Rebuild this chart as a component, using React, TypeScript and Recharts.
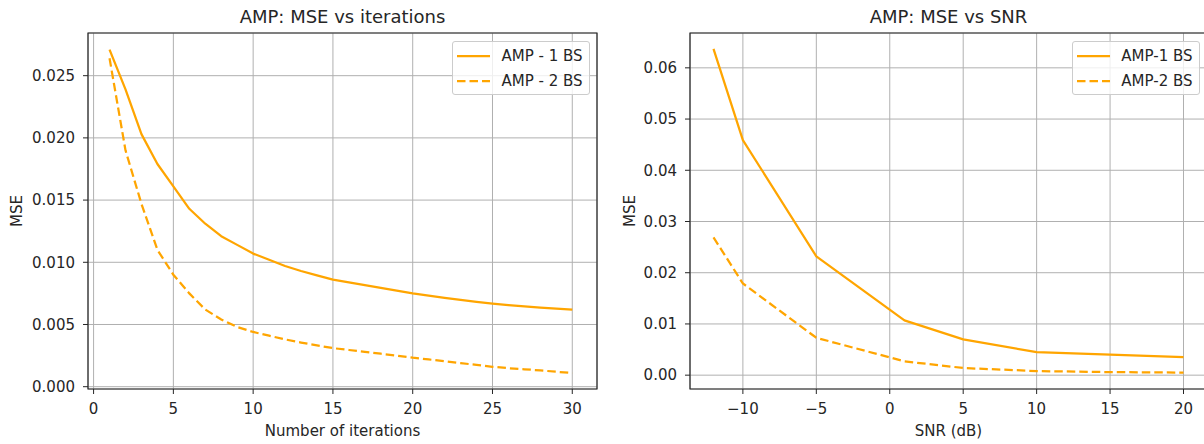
import React from 'react';
import { LineChart, Line, XAxis, YAxis, CartesianGrid, ReferenceArea, Legend } from 'recharts';

// left panel: MSE vs number of AMP iterations
const iterations = [1, 2, 3, 4, 5, 6, 7, 8, 9, 10, 11, 12, 13, 14, 15, 16, 17, 18, 19, 20, 21, 22, 23, 24, 25, 26, 27, 28, 29, 30];
const mseIter1BS = [
    0.0271, 0.0239, 0.0203, 0.0179, 0.0161, 0.0143, 0.0131, 0.0121, 0.0114, 0.0107,
    0.0102, 0.0097, 0.0093, 0.00895, 0.0086, 0.00838, 0.00816, 0.00794, 0.00772, 0.0075,
    0.00732, 0.00714, 0.00697, 0.00681, 0.00667, 0.00655, 0.00645, 0.00636, 0.00628, 0.0062,
];
const mseIter2BS = [
    0.0264, 0.0190, 0.0147, 0.0110, 0.0090, 0.0075, 0.0062, 0.0054, 0.0048, 0.0044,
    0.0041, 0.0038, 0.00355, 0.00332, 0.0031, 0.00295, 0.0028, 0.00265, 0.0025, 0.00233,
    0.00219, 0.00205, 0.0019, 0.00175, 0.0016, 0.00149, 0.0014, 0.00131, 0.0012, 0.0011,
];
const iterTicksX = [0, 5, 10, 15, 20, 25, 30];
const iterTicksY = [0, 0.005, 0.01, 0.015, 0.02, 0.025];

// right panel: MSE vs SNR
const snrDb = [-12, -10, -5, 1, 5, 10, 15, 20];
const mseSnr1BS = [0.0637, 0.0459, 0.0232, 0.0107, 0.0070, 0.0045, 0.0040, 0.0035];
const mseSnr2BS = [0.0269, 0.0179, 0.0073, 0.0027, 0.0014, 0.0008, 0.0006, 0.0005];
const snrTicksX = [-10, -5, 0, 5, 10, 15, 20];
const snrTicksY = [0, 0.01, 0.02, 0.03, 0.04, 0.05, 0.06];

const ORANGE = '#ffa500';
const INK = '#262626';
const FONT = '"DejaVu Sans", sans-serif';
const DASH = '8.5 4';

const iterData = iterations.map((x, i) => ({ x, one: mseIter1BS[i], two: mseIter2BS[i] }));
const snrData = snrDb.map((x, i) => ({ x, one: mseSnr1BS[i], two: mseSnr2BS[i] }));

const minus = (v: number) => (v < 0 ? '\u2212' + Math.abs(v) : String(v));

interface LegendItem { name: string; dash?: string }

const LegendBox = ({ items }: { items: LegendItem[] }) => (
    <div style={{
        background: 'rgba(255,255,255,0.8)', border: '1px solid #cccccc', borderRadius: 3,
        padding: '1px 6px 1px 4px', fontFamily: FONT, fontSize: 15, color: INK,
    }}>
        {items.map(it => (
            <div key={it.name} style={{ display: 'flex', alignItems: 'center', height: 25, whiteSpace: 'nowrap' }}>
                <svg width={33} height={8} style={{ display: 'block', marginRight: 11 }}>
                    <line x1={0} y1={4} x2={33} y2={4} stroke={ORANGE} strokeWidth={2.25} strokeDasharray={it.dash} />
                </svg>
                <span>{it.name}</span>
            </div>
        ))}
    </div>
);

interface PanelProps {
    left: number;
    width: number;
    marginRight: number;
    title: string;
    data: any[];
    xDomain: [number, number];
    yDomain: [number, number];
    xTicks: number[];
    yTicks: number[];
    yDigits: number;
    xLabel: string;
    yLabelOffset: number;
    names: [string, string];
}

const Panel: React.FC<PanelProps> = (p) => {
    const plotLeft = 88;
    const plotRight = p.width - p.marginRight;
    const tickStyle = { fontSize: 15, fill: INK, fontFamily: FONT };
    return (
        <div style={{ position: 'absolute', left: p.left, top: 0, width: p.width, height: 444 }}>
            <div style={{
                position: 'absolute', left: plotLeft, width: plotRight - plotLeft, top: 6,
                textAlign: 'center', fontSize: 18, lineHeight: '22px', color: INK, fontFamily: FONT,
            }}>{p.title}</div>
            <LineChart width={p.width} height={444} data={p.data} margin={{ top: 33, right: p.marginRight, bottom: 0, left: 0 }}>
                <CartesianGrid stroke="#b0b0b0" strokeWidth={1} />
                <XAxis
                    type="number" dataKey="x" domain={p.xDomain} ticks={p.xTicks} interval={0} allowDataOverflow
                    height={55} tickSize={5} tickMargin={9.5} axisLine={false} tickLine={{ stroke: INK }}
                    tick={tickStyle} tickFormatter={minus}
                    label={{ value: p.xLabel, position: 'insideBottom', offset: 8, fill: INK, fontSize: 15, fontFamily: FONT }}
                />
                <YAxis
                    type="number" domain={p.yDomain} ticks={p.yTicks} interval={0} allowDataOverflow
                    width={88} tickSize={5} tickMargin={8} axisLine={false} tickLine={{ stroke: INK }}
                    tick={tickStyle} tickFormatter={(v: number) => v.toFixed(p.yDigits)}
                    label={{
                        value: 'MSE', angle: -90, position: 'insideLeft', offset: p.yLabelOffset,
                        fill: INK, fontSize: 15, fontFamily: FONT, style: { textAnchor: 'middle' },
                    }}
                />
                <ReferenceArea
                    x1={p.xDomain[0]} x2={p.xDomain[1]} y1={p.yDomain[0]} y2={p.yDomain[1]}
                    fill="none" fillOpacity={0} stroke={INK} strokeWidth={1.2}
                />
                <Line type="linear" dataKey="one" name={p.names[0]} stroke={ORANGE} strokeWidth={2.25}
                    strokeLinejoin="round" dot={false} isAnimationActive={false} />
                <Line type="linear" dataKey="two" name={p.names[1]} stroke={ORANGE} strokeWidth={2.25}
                    strokeDasharray={DASH} dot={false} isAnimationActive={false} />
                {/* middle/center so the legend does not shrink the plot area */}
                <Legend
                    verticalAlign="middle" align="center" layout="horizontal"
                    wrapperStyle={{ top: 41, right: p.marginRight + 7.5, left: 'auto', width: 'auto' }}
                    content={() => <LegendBox items={[{ name: p.names[0] }, { name: p.names[1], dash: DASH }]} />}
                />
            </LineChart>
        </div>
    );
};

export default function App() {
    return (
        <div style={{ position: 'absolute', left: 0, top: 0, width: 1204, height: 444, overflow: 'hidden', background: '#fff', fontFamily: FONT }}>
            <Panel
                left={0} width={600} marginRight={3}
                title="AMP: MSE vs iterations"
                data={iterData}
                xDomain={[-0.35, 31.55]} yDomain={[-0.000185, 0.02843]}
                xTicks={iterTicksX} yTicks={iterTicksY} yDigits={3}
                xLabel="Number of iterations" yLabelOffset={17}
                names={['AMP - 1 BS', 'AMP - 2 BS']}
            />
            <Panel
                left={602} width={605} marginRight={0}
                title="AMP: MSE vs SNR"
                data={snrData}
                xDomain={[-13.6, 21.6]} yDomain={[-0.0027, 0.0668]}
                xTicks={snrTicksX} yTicks={snrTicksY} yDigits={2}
                xLabel="SNR (dB)" yLabelOffset={27.5}
                names={['AMP-1 BS', 'AMP-2 BS']}
            />
        </div>
    );
}
